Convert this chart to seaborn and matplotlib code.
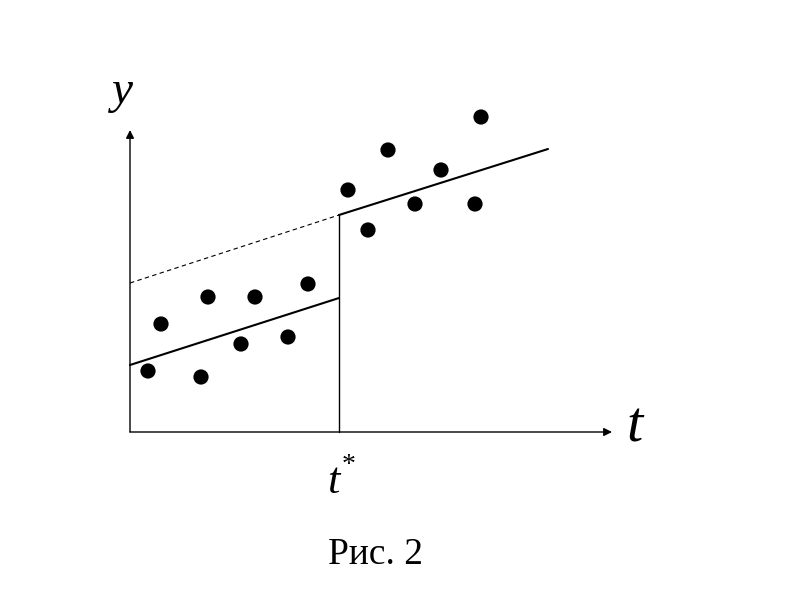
# Рис. 2 - регрессия со структурным сдвигом в момент t*
# координаты: t вправо от оси y, y вверх от оси t

import numpy as np
import matplotlib.pyplot as plt
import seaborn as sns

# точки до сдвига
t_do = [18, 31, 71, 78, 111, 125, 158, 178]
y_do = [61, 108, 55, 135, 88, 135, 95, 148]

# точки после сдвига
t_posle = [218, 238, 258, 285, 311, 345, 351]
y_posle = [242, 202, 282, 228, 262, 228, 315]

# момент сдвига
t_sdvig = 209

# линии регрессии (концы)
t_levaya = [0, 209]
y_levaya = [67, 134]
y_punktir = [149, 217]
t_pravaya = [209, 418]
y_pravaya = [217, 283]

sns.set_style("white")
plt.rcParams['font.family'] = ['Liberation Serif', 'DejaVu Serif']
plt.rcParams['text.color'] = 'black'

fig = plt.figure(figsize=(8, 6), dpi=100)
ax = fig.add_axes([0, 0, 1, 1])
ax.set_xlim(-130, 670)
ax.set_ylim(-168, 432)
ax.axis('off')

# оси со стрелками
ax.annotate('', xy=(0, 302), xytext=(0, 0),
            arrowprops=dict(arrowstyle='-|>', color='black', lw=1,
                            mutation_scale=12, shrinkA=0, shrinkB=0))
ax.annotate('', xy=(482, 0), xytext=(0, 0),
            arrowprops=dict(arrowstyle='-|>', color='black', lw=1,
                            mutation_scale=12, shrinkA=0, shrinkB=0))

# линии
sns.lineplot(x=t_levaya, y=y_levaya, color='black', lw=1.5, ax=ax)
sns.lineplot(x=t_levaya, y=y_punktir, color='black', lw=0.8,
             linestyle=(0, (4, 3)), ax=ax)
sns.lineplot(x=t_pravaya, y=y_pravaya, color='black', lw=1.5, ax=ax)
ax.plot([t_sdvig, t_sdvig], [0, y_punktir[1]], color='black', lw=1)

# точки
sns.scatterplot(x=t_do, y=y_do, color='black', s=120, edgecolor='none', ax=ax)
sns.scatterplot(x=t_posle, y=y_posle, color='black', s=120,
                edgecolor='none', ax=ax)

# подписи
ax.text(-8, 340, 'y', fontsize=34, style='italic', ha='center', va='center',
        color='black')
ax.text(505, 4, 't', fontsize=42, style='italic', ha='center', va='center',
        color='black')
ax.text(t_sdvig - 6, -50, 't', fontsize=32, style='italic', ha='center',
        va='center', color='black')
ax.text(t_sdvig + 10, -34, '*', fontsize=20, ha='center', va='center',
        color='black')
ax.text(245, -123, 'Рис. 2', fontsize=27, ha='center', va='center',
        color='black')

plt.savefig('out.png', dpi=100)
